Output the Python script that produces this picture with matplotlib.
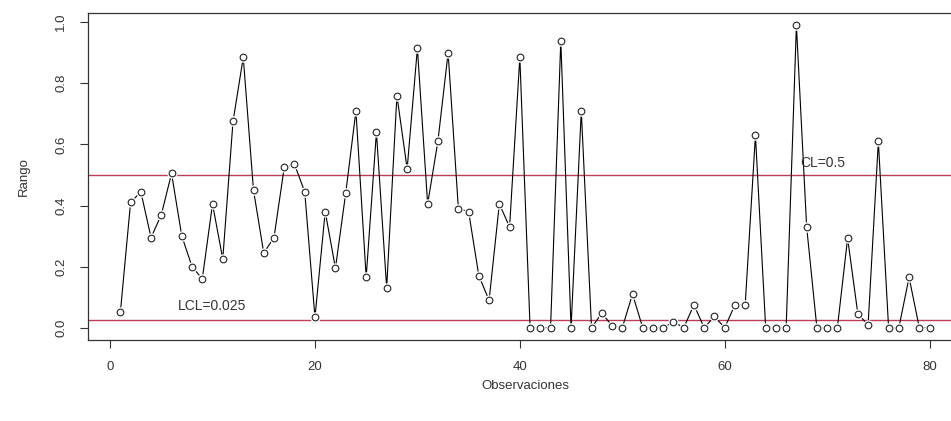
import matplotlib
matplotlib.use("Agg")
import matplotlib.pyplot as plt
import numpy as np

plt.rcParams["font.family"] = ["Liberation Sans", "DejaVu Sans"]

observaciones = np.arange(1, 81)
rango = [
    0.05, 0.41, 0.445, 0.295, 0.37, 0.505, 0.30, 0.20, 0.16, 0.405,
    0.225, 0.675, 0.885, 0.45, 0.245, 0.295, 0.525, 0.535, 0.445, 0.034,
    0.38, 0.195, 0.44, 0.71, 0.165, 0.64, 0.13, 0.76, 0.52, 0.915,
    0.405, 0.61, 0.90, 0.39, 0.38, 0.17, 0.09, 0.405, 0.33, 0.885,
    0.0, 0.0, 0.0, 0.94, 0.0, 0.71, 0.0, 0.048, 0.007, 0.0,
    0.11, 0.0, 0.0, 0.0, 0.02, 0.0, 0.075, 0.0, 0.037, 0.0,
    0.075, 0.075, 0.63, 0.0, 0.0, 0.0, 0.99, 0.33, 0.0, 0.0,
    0.0, 0.293, 0.045, 0.01, 0.61, 0.0, 0.0, 0.165, 0.0, 0.0,
]
cl = 0.5
lcl = 0.025
x_ticks = [0, 20, 40, 60, 80]
y_ticks = [0.0, 0.2, 0.4, 0.6, 0.8, 1.0]

ink = "#333333"
limit_color = "#C03A5C"

fig = plt.figure(figsize=(9.51, 4.21), dpi=100)
ax = fig.add_axes([0.0925, 0.1924, 0.919, 0.7767])

ax.axhline(cl, color=limit_color, lw=1.0, zorder=1)
ax.axhline(lcl, color=limit_color, lw=1.0, zorder=1)

# R type="b": line with small gaps around the open circles
ax.plot(observaciones, rango, color="black", lw=0.8, zorder=2)
ax.plot(observaciones, rango, ls="none", marker="o", ms=7.5,
        mfc="white", mec="none", zorder=3)
ax.plot(observaciones, rango, ls="none", marker="o", ms=4.8,
        mfc="white", mec="#222222", mew=0.8, zorder=4)

ax.text(10, 0.07, "LCL=0.025", ha="center", va="center", fontsize=10, color=ink)
ax.text(69.6, 0.54, "CL=0.5", ha="center", va="center", fontsize=10, color=ink)

ax.set_xlim(-2.16, 83.16)
ax.set_ylim(-0.04, 1.03)
ax.set_xticks(x_ticks)
ax.set_yticks(y_ticks)
ax.set_xticklabels([str(t) for t in x_ticks])
ax.set_yticklabels([f"{t:.1f}" for t in y_ticks], rotation=90, va="center")
ax.tick_params(axis="both", colors=ink, labelsize=9.5, length=6, width=0.8, pad=9)

for side in ax.spines.values():
    side.set_color(ink)
    side.set_linewidth(0.9)

ax.set_xlabel("Observaciones", fontsize=9.5, color=ink, labelpad=5)
ax.set_ylabel("Rango", fontsize=9.5, color=ink, labelpad=18)

fig.savefig("out.png", dpi=100)
